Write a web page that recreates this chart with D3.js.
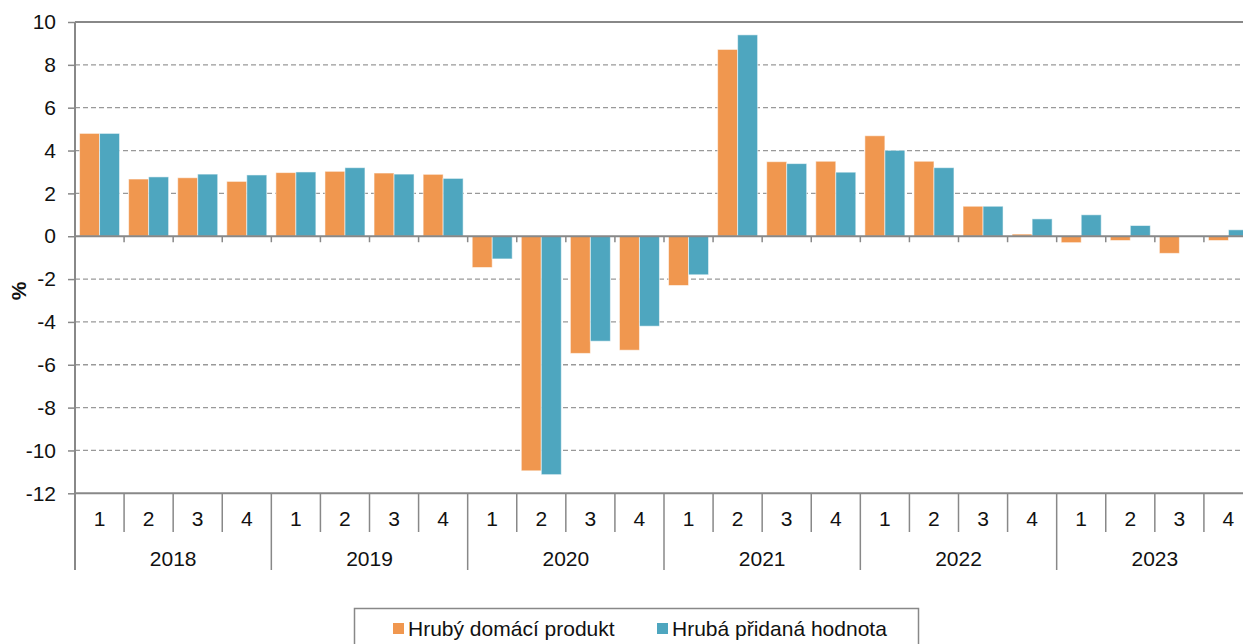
<!DOCTYPE html>
<html><head><meta charset="utf-8">
<script src="https://cdn.jsdelivr.net/npm/d3@7"></script>
<style>body{margin:0;background:#fff}svg{display:block;font-family:"Liberation Sans",Arial,sans-serif}</style>
</head><body><svg id="c" width="1243" height="644"></svg>
<script>
const years = ["2018","2019","2020","2021","2022","2023"];
const quarters = ["1","2","3","4"];
const seriesNames = ["Hrubý domácí produkt","Hrubá přidaná hodnota"];
const hdp = [4.8,2.67,2.73,2.56, 2.97,3.03,2.95,2.89, -1.46,-10.95,-5.47,-5.32, -2.3,8.72,3.48,3.5, 4.69,3.5,1.4,0.1, -0.3,-0.2,-0.8,-0.2];
const hph = [4.8,2.77,2.9,2.86, 3.0,3.2,2.9,2.7, -1.06,-11.13,-4.9,-4.2, -1.8,9.4,3.39,2.99, 4.01,3.2,1.4,0.81, 1.0,0.5,0.0,0.3];
const yTicks = [10,8,6,4,2,0,-2,-4,-6,-8,-10,-12];
const colors = ["#F0974F","#4EA6BF"];

const svg = d3.select("#c");
const L = 75, R = 1253, T = 22, B = 493.3;
const FS = 21;
const keys = [];
years.forEach(y => quarters.forEach(q => keys.push(y + "-" + q)));
const data = keys.map((k,i) => ({key:k, year:k.split("-")[0], q:k.split("-")[1], vals:[hdp[i], hph[i]]}));

const x = d3.scaleBand().domain(keys).range([L, R]).paddingInner(0.185).paddingOuter(0.0925);
const step = x.step();
const xs = d3.scaleBand().domain([0,1]).range([0, x.bandwidth()]);
const y = d3.scaleLinear().domain([-12, 10]).range([B, T]);
const grey = "#888";

// gridlines
svg.append("g").selectAll("line").data(yTicks.filter(t => t !== 10 && t !== 0 && t !== -12)).join("line")
  .attr("x1", L).attr("x2", 1243).attr("y1", d => y(d)).attr("y2", d => y(d))
  .attr("stroke", "#999").attr("stroke-width", 1.3).attr("stroke-dasharray", "5,3");

// top border
svg.append("line").attr("x1", L).attr("x2", 1243).attr("y1", y(10)).attr("y2", y(10)).attr("stroke", grey).attr("stroke-width", 2);

// bars
const g = svg.append("g").selectAll("g").data(data).join("g").attr("transform", d => `translate(${x(d.key)},0)`);
g.selectAll("rect").data(d => d.vals.map((v,i) => ({v, i}))).join("rect")
  .attr("x", d => xs(d.i)).attr("width", xs.bandwidth())
  .attr("y", d => y(Math.max(0, d.v))).attr("height", d => Math.abs(y(d.v) - y(0)))
  .attr("fill", d => colors[d.i]).attr("stroke", "rgba(255,255,255,0.55)").attr("stroke-width", 1);

// zero line with small ticks
svg.append("line").attr("x1", L).attr("x2", 1243).attr("y1", y(0)).attr("y2", y(0)).attr("stroke", grey).attr("stroke-width", 2);
svg.append("g").selectAll("line").data(keys.slice(1)).join("line")
  .attr("x1", d => x(d) - step*0.0925).attr("x2", d => x(d) - step*0.0925)
  .attr("y1", y(0)).attr("y2", y(0) + 6).attr("stroke", grey).attr("stroke-width", 1.5);

// left y axis
const yAxis = d3.axisLeft(y).tickValues(yTicks).tickSize(7).tickFormat(d3.format("d"));
const ya = svg.append("g").attr("transform", `translate(${L},0)`).call(yAxis);
ya.select(".domain").remove();
ya.selectAll(".tick line").attr("stroke", grey).attr("stroke-width", 1.5);
ya.selectAll(".tick text").attr("font-size", FS).attr("fill", "#111").attr("x", -19)
  .attr("font-family", "Liberation Sans, Arial, sans-serif").text(d => d < 0 ? "-" + Math.abs(d) : d);
svg.append("line").attr("x1", L).attr("x2", L).attr("y1", T).attr("y2", 570).attr("stroke", grey).attr("stroke-width", 2);

// bottom axis
svg.append("line").attr("x1", L).attr("x2", 1243).attr("y1", B).attr("y2", B).attr("stroke", grey).attr("stroke-width", 2);
svg.append("g").selectAll("line").data(keys.slice(1)).join("line")
  .attr("x1", d => x(d) - step*0.0925).attr("x2", d => x(d) - step*0.0925)
  .attr("y1", B).attr("y2", d => d.endsWith("-1") ? 570 : 532)
  .attr("stroke", grey).attr("stroke-width", 1.5);
svg.append("g").selectAll("text").data(data).join("text")
  .attr("x", d => x(d.key) + x.bandwidth()/2).attr("y", 526)
  .attr("text-anchor", "middle").attr("font-size", FS).attr("fill", "#111").text(d => d.q);
svg.append("g").selectAll("text").data(years).join("text")
  .attr("x", yr => x(yr + "-1") - step*0.0925 + step*2).attr("y", 566)
  .attr("text-anchor", "middle").attr("font-size", FS).attr("fill", "#111").text(yr => yr);

// y label
svg.append("text").attr("transform", "translate(26,291) rotate(-90)").attr("text-anchor", "middle")
  .attr("font-size", FS).attr("font-weight", "bold").attr("fill", "#111").text("%");

// legend
svg.append("rect").attr("x", 354.5).attr("y", 608.5).attr("width", 564).attr("height", 50)
  .attr("fill", "#fff").attr("stroke", "#888").attr("stroke-width", 1.5);
const lx = [393, 657];
seriesNames.forEach((n, i) => {
  svg.append("rect").attr("x", lx[i]).attr("y", 623).attr("width", 11).attr("height", 11).attr("fill", colors[i]);
  svg.append("text").attr("x", lx[i] + 15).attr("y", 636).attr("font-size", FS).attr("fill", "#111").text(n);
});
</script></body></html>
